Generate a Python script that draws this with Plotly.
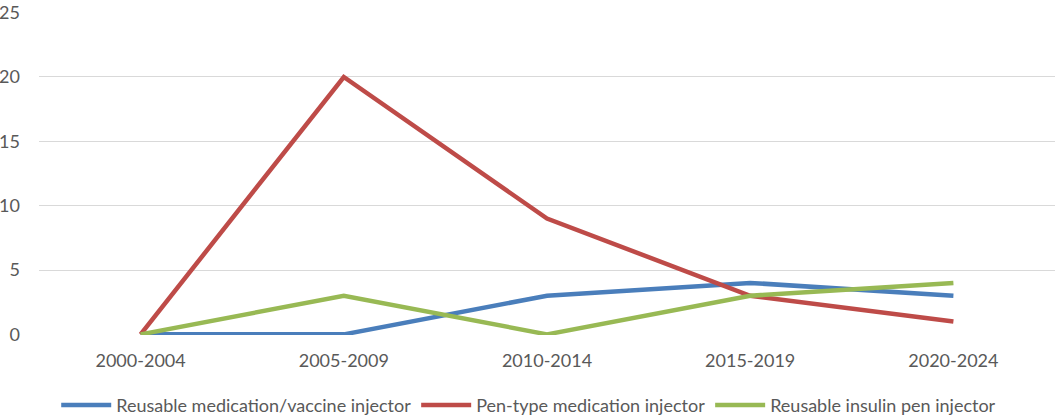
import plotly.graph_objects as go

categories = ["2000-2004", "2005-2009", "2010-2014", "2015-2019", "2020-2024"]
reusable_med_vaccine = [0, 0, 3, 4, 3]
pen_type_med = [0, 20, 9, 3, 1]
reusable_insulin_pen = [0, 3, 0, 3, 4]
series_names = ["Reusable medication/vaccine injector",
                "Pen-type medication injector",
                "Reusable insulin pen injector"]
y_ticks = [0, 5, 10, 15, 20, 25]

colors = ["#4A7EBB", "#BE4B48", "#98B954"]
font_family = "Lato, Open Sans, sans-serif"

fig = go.Figure()
for name, vals, c in zip(series_names,
                         [reusable_med_vaccine, pen_type_med, reusable_insulin_pen],
                         colors):
    fig.add_trace(go.Scatter(x=categories, y=vals, name=name, mode="lines",
                             line=dict(color=c, width=4.5)))

fig.update_layout(
    width=1056, height=416,
    margin=dict(l=39, r=1, t=12, b=81),
    paper_bgcolor="white", plot_bgcolor="white",
    font=dict(family=font_family, size=18, color="#595959"),
    showlegend=True,
    legend=dict(orientation="h", x=0.482, xanchor="center",
                yref="container", y=0.026, yanchor="middle",
                font=dict(size=18, color="#595959"), itemwidth=50,
                tracegroupgap=0),
    xaxis=dict(type="category", range=[-0.5, 4.5], showgrid=False, zeroline=False,
               showline=False, ticks="", tickfont=dict(size=18, color="#595959"),
               ticklabelstandoff=13, automargin=False),
    yaxis=dict(range=[-0.05, 25.05], tickvals=y_ticks, showgrid=True, gridcolor="#D9D9D9",
               gridwidth=1, zeroline=False, showline=False, ticks="",
               tickfont=dict(size=18, color="#595959"), ticklabelstandoff=18,
               ticklabeloverflow="allow", automargin=False),
)

fig.write_html("out.html", config={"displayModeBar": False},
               post_script="document.body.style.margin='0';document.body.style.padding='0';")
